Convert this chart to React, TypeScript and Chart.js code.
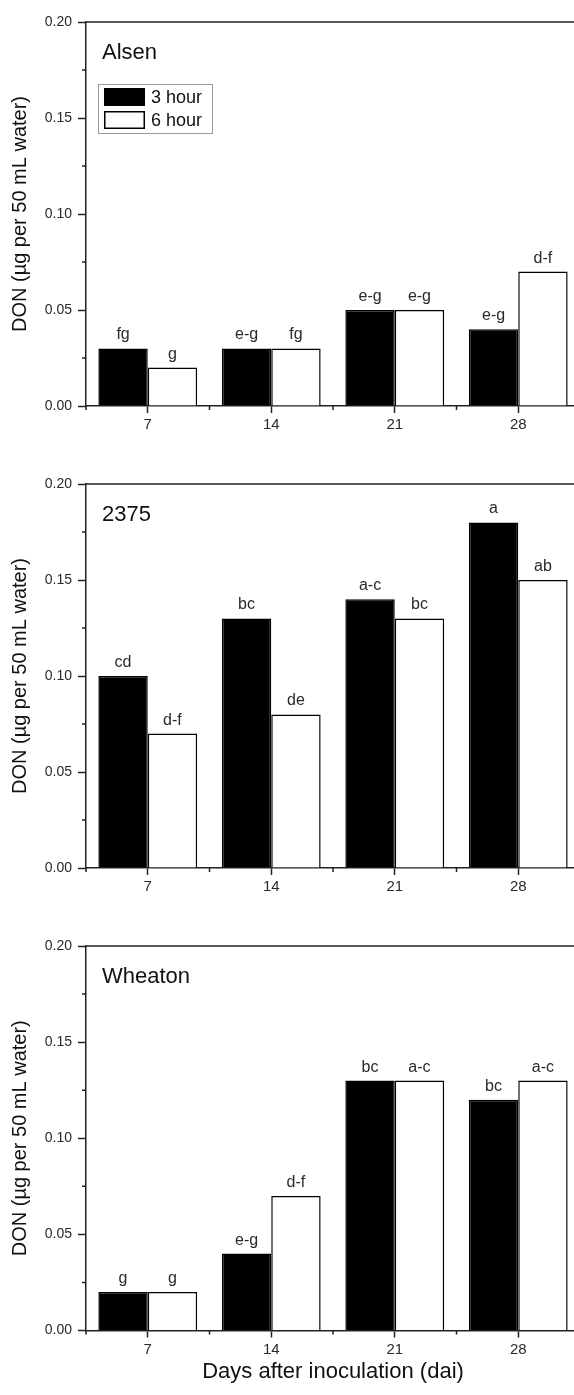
import React, { useEffect, useRef } from "react";
import { Chart, registerables } from "chart.js";
Chart.register(...registerables);

const categories = ["7", "14", "21", "28"];
const seriesNames = ["3 hour", "6 hour"];
const panelNames = ["Alsen", "2375", "Wheaton"];

const alsen3h = [0.03, 0.03, 0.05, 0.04];
const alsen6h = [0.02, 0.03, 0.05, 0.07];
const alsen3hLetters = ["fg", "e-g", "e-g", "e-g"];
const alsen6hLetters = ["g", "fg", "e-g", "d-f"];

const l2375_3h = [0.1, 0.13, 0.14, 0.18];
const l2375_6h = [0.07, 0.08, 0.13, 0.15];
const l2375_3hLetters = ["cd", "bc", "a-c", "a"];
const l2375_6hLetters = ["d-f", "de", "bc", "ab"];

const wheaton3h = [0.02, 0.04, 0.13, 0.12];
const wheaton6h = [0.02, 0.07, 0.13, 0.13];
const wheaton3hLetters = ["g", "e-g", "bc", "bc"];
const wheaton6hLetters = ["g", "d-f", "a-c", "a-c"];

const yTicks = [0, 0.05, 0.1, 0.15, 0.2];
const yMinorTicks = [0.025, 0.075, 0.125, 0.175];
const yTitle = "DON (µg per 50 mL water)";
const xTitle = "Days after inoculation (dai)";

const FONT = "'Liberation Sans', Arial, sans-serif";
const INK = "#222";
const TEXT = "#2a2a2a";

const panels = [
  { name: panelNames[0], v3: alsen3h, v6: alsen6h, l3: alsen3hLetters, l6: alsen6hLetters, legend: true, xTitle: false },
  { name: panelNames[1], v3: l2375_3h, v6: l2375_6h, l3: l2375_3hLetters, l6: l2375_6hLetters, legend: false, xTitle: false },
  { name: panelNames[2], v3: wheaton3h, v6: wheaton6h, l3: wheaton3hLetters, l6: wheaton6hLetters, legend: true && false, xTitle: true },
];

const CANVAS_W = 600;
const PANEL_TOPS = [0, 462, 924];
const PANEL_HEIGHTS = [462, 462, 471];

function makePlugin(panel: any) {
  return {
    id: "decor",
    afterDraw(chart: any) {
      const ctx = chart.ctx;
      const area = chart.chartArea;
      const xs = chart.scales.x;
      const ys = chart.scales.y;
      ctx.save();
      // frame top and right
      ctx.strokeStyle = INK;
      ctx.lineWidth = 1.5;
      ctx.beginPath();
      ctx.moveTo(area.left, area.top);
      ctx.lineTo(area.right, area.top);
      ctx.lineTo(area.right, area.bottom);
      ctx.stroke();
      // y minor ticks
      ctx.beginPath();
      for (const v of yMinorTicks) {
        const py = ys.getPixelForValue(v);
        ctx.moveTo(area.left - 4, py);
        ctx.lineTo(area.left, py);
      }
      // x minor ticks at category boundaries
      for (let i = 0; i <= categories.length; i++) {
        const px = xs.getPixelForValue(i - 0.5);
        ctx.moveTo(px, area.bottom);
        ctx.lineTo(px, area.bottom + 4);
      }
      ctx.stroke();

      // letters above bars
      ctx.fillStyle = TEXT;
      ctx.font = `16px ${FONT}`;
      ctx.textAlign = "center";
      ctx.textBaseline = "alphabetic";
      chart.data.datasets.forEach((ds: any, di: number) => {
        const meta = chart.getDatasetMeta(di);
        meta.data.forEach((bar: any, j: number) => {
          ctx.fillText(ds.letters[j], bar.x, bar.y - 9);
        });
      });

      // panel name
      ctx.textAlign = "left";
      ctx.textBaseline = "middle";
      ctx.font = `22px ${FONT}`;
      ctx.fillStyle = "#111";
      ctx.fillText(panel.name, area.left + 16, area.top + 31);

      // legend
      if (panel.legend) {
        const lx = area.left + 12;
        const ly = area.top + 62;
        ctx.strokeStyle = "#9a9a9a";
        ctx.lineWidth = 1;
        ctx.strokeRect(lx + 0.5, ly + 0.5, 114, 49);
        ctx.font = `18px ${FONT}`;
        chart.data.datasets.forEach((ds: any, di: number) => {
          const sy = ly + 4 + di * 23;
          ctx.fillStyle = ds.backgroundColor;
          ctx.fillRect(lx + 6, sy, 41, 18);
          ctx.strokeStyle = "#000";
          ctx.lineWidth = 1.5;
          ctx.strokeRect(lx + 6.75, sy + 0.75, 39.5, 16.5);
          ctx.fillStyle = "#111";
          ctx.textBaseline = "middle";
          ctx.fillText(ds.label, lx + 53, sy + 10);
        });
      }
      ctx.restore();
    },
  };
}

function buildChart(canvas: HTMLCanvasElement, panel: any, height: number) {
  const xAxisHeight = height - 406 + (panel.xTitle ? -0.5 : 0);
  return new Chart(canvas, {
    type: "bar",
    data: {
      labels: categories,
      datasets: [
        {
          label: seriesNames[0],
          data: panel.v3,
          backgroundColor: "#000",
          borderColor: "#000",
          borderWidth: 1.5,
          categoryPercentage: 0.8,
          barPercentage: 1,
          letters: panel.l3,
        } as any,
        {
          label: seriesNames[1],
          data: panel.v6,
          backgroundColor: "#fff",
          borderColor: "#000",
          borderWidth: 1.5,
          categoryPercentage: 0.8,
          barPercentage: 1,
          letters: panel.l6,
        } as any,
      ],
    },
    options: {
      responsive: false,
      animation: false,
      devicePixelRatio: 1,
      layout: { padding: { top: 22, right: CANVAS_W - 580, left: 0, bottom: 0 } },
      plugins: { legend: { display: false }, tooltip: { enabled: false }, title: { display: false } },
      scales: {
        x: {
          type: "category",
          offset: true,
          grid: {
            display: true,
            offset: false,
            drawOnChartArea: false,
            drawTicks: true,
            tickLength: 7,
            tickColor: INK,
            tickWidth: 1.5,
          },
          border: { display: true, color: INK, width: 1.5 },
          ticks: { color: TEXT, font: { family: FONT, size: 15 }, padding: 3, maxRotation: 0, autoSkip: false },
          title: {
            display: panel.xTitle,
            text: xTitle,
            color: "#111",
            font: { family: FONT, size: 22 },
            padding: { top: 0, bottom: 10 },
          },
          afterFit: (s: any) => {
            s.height = xAxisHeight;
          },
        },
        y: {
          min: 0,
          max: 0.2,
          afterBuildTicks: (s: any) => {
            s.ticks = yTicks.map((v) => ({ value: v }));
          },
          grid: {
            display: true,
            drawOnChartArea: false,
            drawTicks: true,
            tickLength: 8,
            tickColor: INK,
            tickWidth: 1.5,
          },
          border: { display: true, color: INK, width: 1.5 },
          ticks: {
            color: TEXT,
            font: { family: FONT, size: 14 },
            padding: 6,
            callback: (v: any) => Number(v).toFixed(2),
          },
          title: {
            display: true,
            text: yTitle,
            color: "#111",
            font: { family: FONT, size: 20 },
            padding: { top: 8, bottom: 0 },
          },
          afterFit: (s: any) => {
            s.width = 86;
          },
        },
      },
    } as any,
    plugins: [makePlugin(panel)],
  });
}

export default function App() {
  const r0 = useRef<HTMLCanvasElement>(null);
  const r1 = useRef<HTMLCanvasElement>(null);
  const r2 = useRef<HTMLCanvasElement>(null);
  const refs = [r0, r1, r2];

  useEffect(() => {
    const charts = refs.map((r, i) => buildChart(r.current as HTMLCanvasElement, panels[i], PANEL_HEIGHTS[i]));
    return () => charts.forEach((c) => c.destroy());
  }, []);

  return (
    <div
      style={{
        position: "absolute",
        left: 0,
        top: 0,
        width: 574,
        height: 1395,
        overflow: "hidden",
        background: "#fff",
      }}
    >
      {refs.map((r, i) => (
        <canvas
          key={i}
          ref={r}
          width={CANVAS_W}
          height={PANEL_HEIGHTS[i]}
          style={{
            position: "absolute",
            left: 0,
            top: PANEL_TOPS[i],
            width: CANVAS_W,
            height: PANEL_HEIGHTS[i],
            display: "block",
          }}
        />
      ))}
    </div>
  );
}
